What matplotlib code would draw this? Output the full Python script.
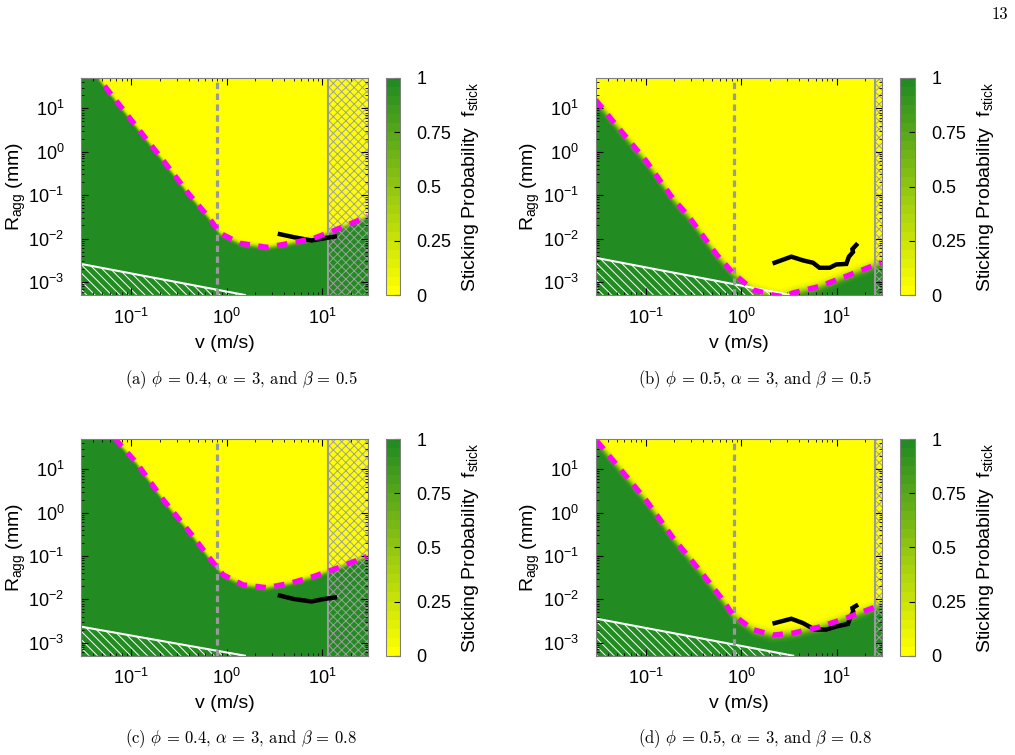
import numpy as np
import matplotlib
matplotlib.use('Agg')
from matplotlib import pyplot as plt
from matplotlib.colors import LinearSegmentedColormap
from matplotlib.ticker import LogLocator, NullFormatter

plt.rcParams['font.family'] = ['Liberation Sans', 'DejaVu Sans']
plt.rcParams['mathtext.fontset'] = 'custom'
plt.rcParams['mathtext.rm'] = 'Liberation Sans'
plt.rcParams['mathtext.it'] = 'Liberation Sans:italic'
plt.rcParams['hatch.linewidth'] = 0.7

## axis limits
v_lim = (0.03, 30)
r_lim = (5e-4, 50)

## (a) phi=0.4, beta=0.5
v_crit_a = [0.03, 0.046, 0.104, 0.215, 0.41, 0.64, 0.85, 1.38, 2.64, 4.6, 8.2, 13.2, 29.8]
r_crit_a = [160, 48.7, 4.9, 0.645, 0.101, 0.032, 0.0133, 0.0078, 0.0063, 0.0078, 0.0102, 0.0153, 0.032]
v_track_a = [3.6, 4.97, 7.7, 10.2, 13.5]
r_track_a = [0.0126, 0.0108, 0.0090, 0.0100, 0.0111]
v_white_a = [0.03, 1.55]
r_white_a = [0.0026, 5e-4]
v_dash_a = 0.785
v_solid_a = 11.5

## (b) phi=0.5, beta=0.5
v_crit_b = [0.03, 0.046, 0.1, 0.194, 0.279, 0.552, 0.82, 1.33, 2.15, 2.7, 3.5, 6.6, 12.6, 29.2]
r_crit_b = [15.6, 4.9, 0.63, 0.082, 0.0335, 0.0043, 0.0016, 6.6e-4, 5.0e-4, 4.6e-4, 5.6e-4, 7.9e-4, 0.00136, 0.0028]
v_track_b = [2.24, 3.35, 4.43, 5.65, 6.6, 8.43, 9.9, 12.6, 13.4, 14.8, 14.6, 16.0]
r_track_b = [0.00277, 0.00382, 0.00314, 0.00277, 0.00212, 0.00212, 0.00253, 0.0026, 0.0038, 0.0049, 0.0057, 0.0071]
v_white_b = [0.03, 3.3]
r_white_b = [0.0036, 5e-4]
v_dash_b = 0.84
v_solid_b = 25

## (c) phi=0.4, beta=0.8
v_crit_c = [0.05, 0.071, 0.115, 0.218, 0.448, 0.643, 0.92, 1.49, 2.62, 4.6, 8.0, 14.1, 29]
r_crit_c = [110, 45.7, 13.8, 1.96, 0.28, 0.097, 0.0366, 0.0215, 0.0186, 0.0235, 0.0334, 0.052, 0.097]
v_track_c = [3.6, 4.97, 7.7, 10.2, 13.5]
r_track_c = [0.0122, 0.0102, 0.0089, 0.0101, 0.011]
v_white_c = [0.03, 1.55]
r_white_c = [0.00234, 5e-4]
v_dash_c = 0.785
v_solid_c = 11.5

## (d) phi=0.5, beta=0.8
v_crit_d = [0.0308, 0.046, 0.1, 0.194, 0.40, 0.60, 0.82, 1.33, 2.15, 3.5, 6.6, 12.6, 29.2]
r_crit_d = [45, 15.6, 2.0, 0.26, 0.037, 0.0117, 0.0044, 0.002, 0.0015, 0.00166, 0.0023, 0.0037, 0.0075]
v_track_d = [2.24, 3.35, 4.43, 5.9, 7.8, 9.9, 13.1, 14.0, 14.9, 14.6, 16.0]
r_track_d = [0.00283, 0.00356, 0.00283, 0.0020, 0.0020, 0.00236, 0.0027, 0.0040, 0.0052, 0.0063, 0.0071]
v_white_d = [0.03, 3.5]
r_white_d = [0.0036, 5e-4]
v_dash_d = 0.84
v_solid_d = 25

captions = [r'(a) $\phi\,=\,\mathrm{0.4}$, $\alpha\,=\,\mathrm{3}$, and $\beta\,=\,\mathrm{0.5}$',
            r'(b) $\phi\,=\,\mathrm{0.5}$, $\alpha\,=\,\mathrm{3}$, and $\beta\,=\,\mathrm{0.5}$',
            r'(c) $\phi\,=\,\mathrm{0.4}$, $\alpha\,=\,\mathrm{3}$, and $\beta\,=\,\mathrm{0.8}$',
            r'(d) $\phi\,=\,\mathrm{0.5}$, $\alpha\,=\,\mathrm{3}$, and $\beta\,=\,\mathrm{0.8}$']
cbar_ticks = [0, 0.25, 0.5, 0.75, 1]
cbar_ticklabels = ['0', '0.25', '0.5', '0.75', '1']

W, H = 1015, 755
cmap = LinearSegmentedColormap.from_list('stick', ['#ffff00', '#228b22'], N=24)


def fig_rect(x0, y0, x1, y1):
    return [x0 / W, 1 - y1 / H, (x1 - x0) / W, (y1 - y0) / H]


def draw_panel(ax, cax, v_crit, r_crit, v_track, r_track, v_white, r_white,
               v_dash, v_solid, blur):
    # sticking probability map: green below the critical radius, yellow above
    vv = np.logspace(np.log10(v_lim[0]), np.log10(v_lim[1]), 400)
    rr = np.logspace(np.log10(r_lim[0]), np.log10(r_lim[1]), 400)
    V, R = np.meshgrid(vv, rr)
    rc = np.interp(np.log10(vv), np.log10(v_crit), np.log10(r_crit))
    f = 1 / (1 + np.exp((np.log10(R) - rc[None, :]) / blur))
    mesh = ax.pcolormesh(V, R, f, cmap=cmap, vmin=0, vmax=1,
                         shading='gouraud', rasterized=True)

    # hatched region below the white line
    ax.fill_between(v_white, r_lim[0], r_white, facecolor='none',
                    edgecolor='white', hatch='\\\\\\\\', linewidth=0)
    ax.plot(v_white, r_white, color='white', lw=1.5)

    # cross-hatched region right of the solid gray line
    ax.axvspan(v_solid, v_lim[1], facecolor='none', edgecolor='#a0a0a0',
               hatch='xxxx', linewidth=0)
    ax.axvline(v_solid, color='#9a9a9a', lw=1.5)
    ax.axvline(v_dash, color='#9a9a9a', lw=2.3, dashes=(2.0, 1.4))

    ax.plot(v_track, r_track, color='black', lw=3.2, solid_joinstyle='miter')
    ax.plot(v_crit, r_crit, color='#ff00ff', lw=3.8, dashes=(2.0, 1.6))

    ax.set_xscale('log')
    ax.set_yscale('log')
    ax.set_xlim(v_lim)
    ax.set_ylim(r_lim)
    ax.yaxis.set_major_locator(LogLocator(base=10, numticks=10))
    ax.yaxis.set_minor_locator(LogLocator(base=10, subs=np.arange(2, 10), numticks=20))
    ax.yaxis.set_minor_formatter(NullFormatter())
    ax.xaxis.set_minor_formatter(NullFormatter())
    ax.tick_params(which='both', direction='in', top=True, right=True, colors='black')
    ax.tick_params(which='major', length=5, width=0.8, labelsize=13)
    ax.tick_params(which='minor', length=2.5, width=0.6)
    ax.tick_params(axis='y', which='major', pad=12)
    ax.tick_params(axis='x', which='major', pad=9)
    for s in ax.spines.values():
        s.set_color('#808080')
    ax.set_xlabel('v (m/s)', fontsize=14, labelpad=5)
    ax.set_ylabel(r'R$_{\mathrm{agg}}$ (mm)', fontsize=14, labelpad=0.5)

    cb = plt.colorbar(mesh, cax=cax, ticks=cbar_ticks)
    cb.ax.set_yticklabels(cbar_ticklabels)
    cb.outline.set_edgecolor('#808080')
    cb.ax.tick_params(direction='in', length=4, width=0.8, labelsize=13, pad=12)
    cb.set_label(r'Sticking Probability  f$_{\mathrm{stick}}$', fontsize=14, labelpad=6)


fig = plt.figure(figsize=(W / 100, H / 100), dpi=100)

ax_a = fig.add_axes(fig_rect(81, 78, 368, 295))
cax_a = fig.add_axes(fig_rect(386, 78, 400, 295))
ax_b = fig.add_axes(fig_rect(595.7, 78, 882.3, 295))
cax_b = fig.add_axes(fig_rect(900, 78, 915, 295))
ax_c = fig.add_axes(fig_rect(81, 439, 368, 655.7))
cax_c = fig.add_axes(fig_rect(386, 439, 400, 655.7))
ax_d = fig.add_axes(fig_rect(595.7, 439, 882.3, 655.7))
cax_d = fig.add_axes(fig_rect(900, 439, 915, 655.7))

draw_panel(ax_a, cax_a, v_crit_a, r_crit_a, v_track_a, r_track_a, v_white_a, r_white_a,
           v_dash_a, v_solid_a, 0.03)
draw_panel(ax_b, cax_b, v_crit_b, r_crit_b, v_track_b, r_track_b, v_white_b, r_white_b,
           v_dash_b, v_solid_b, 0.055)
draw_panel(ax_c, cax_c, v_crit_c, r_crit_c, v_track_c, r_track_c, v_white_c, r_white_c,
           v_dash_c, v_solid_c, 0.03)
draw_panel(ax_d, cax_d, v_crit_d, r_crit_d, v_track_d, r_track_d, v_white_d, r_white_d,
           v_dash_d, v_solid_d, 0.055)

## captions and page number
cap_xy = [(241, 380), (755, 380), (241, 739), (755, 739)]
for (cx, cy), txt in zip(cap_xy, captions):
    fig.text(cx / W, 1 - cy / H, txt, ha='center', va='center', fontsize=12,
             family='cmr10', math_fontfamily='cm')
fig.text(1000 / W, 1 - 14 / H, '13', ha='center', va='center', fontsize=12,
         family='cmr10')

fig.savefig('out.png', dpi=100)
